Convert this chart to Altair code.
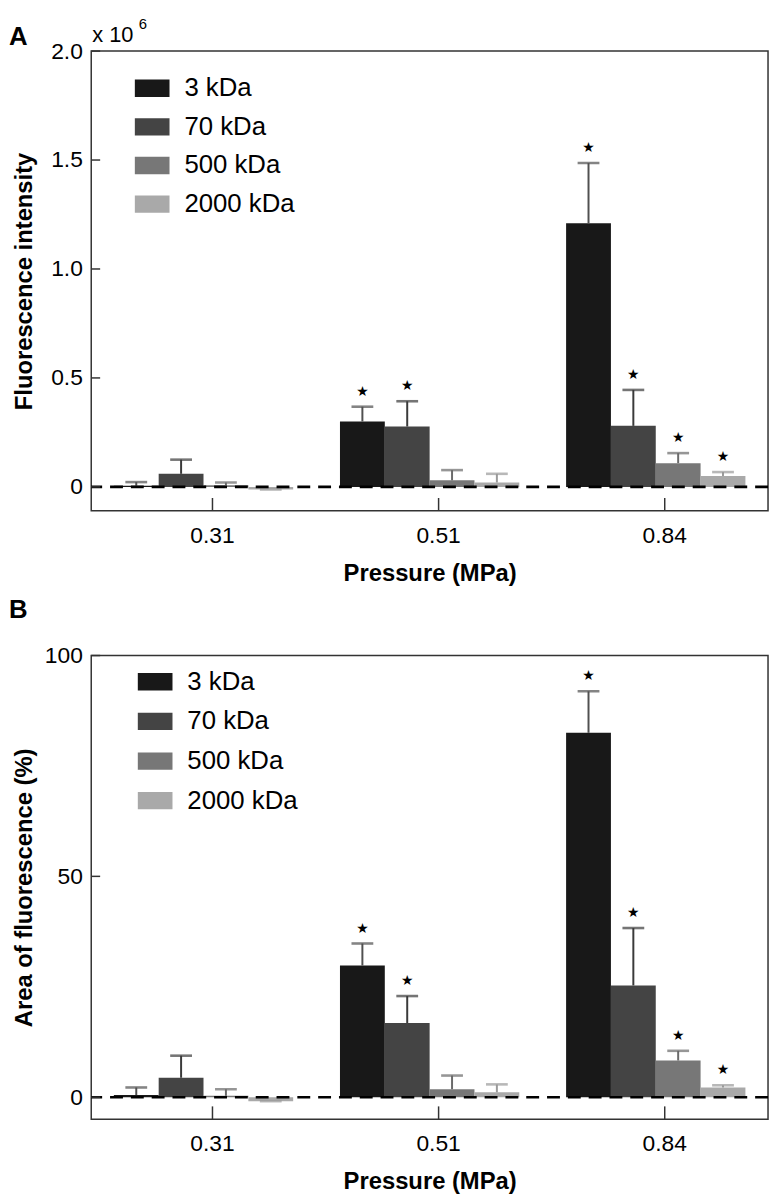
import altair as alt
import pandas as pd

pressures = ["0.31", "0.51", "0.84"]
series = ["3 kDa", "70 kDa", "500 kDa", "2000 kDa"]

# Panel A: fluorescence intensity (x 10^6): mean and top of the error bar
a_mean = {
    "3 kDa":    [0.005, 0.300, 1.210],
    "70 kDa":   [0.060, 0.277, 0.280],
    "500 kDa":  [0.008, 0.030, 0.109],
    "2000 kDa": [-0.012, 0.020, 0.050],
}
a_upper = {
    "3 kDa":    [0.022, 0.368, 1.486],
    "70 kDa":   [0.125, 0.393, 0.445],
    "500 kDa":  [0.020, 0.077, 0.155],
    "2000 kDa": [-0.012, 0.060, 0.068],
}
# Panel B: area of fluorescence (%)
b_mean = {
    "3 kDa":    [0.5, 29.8, 82.5],
    "70 kDa":   [4.4, 16.8, 25.3],
    "500 kDa":  [0.3, 1.8, 8.3],
    "2000 kDa": [-0.9, 1.1, 2.2],
}
b_upper = {
    "3 kDa":    [2.2, 34.8, 91.9],
    "70 kDa":   [9.4, 22.9, 38.3],
    "500 kDa":  [1.8, 4.9, 10.5],
    "2000 kDa": [-0.9, 2.9, 2.7],
}
# significance stars (same in both panels)
stars = {
    "3 kDa":    [False, True, True],
    "70 kDa":   [False, True, True],
    "500 kDa":  [False, False, True],
    "2000 kDa": [False, False, True],
}

a_ticks = [0, 0.5, 1.0, 1.5, 2.0]
b_ticks = [0, 50, 100]

bar_colors = ["#181818", "#444444", "#777777", "#a9a9a9"]
err_colors = ["#505050", "#3a3a3a", "#6a6a6a", "#9a9a9a"]
FONT = "Liberation Sans"
W = 683


def build_df(mean, upper):
    rows = []
    for s in series:
        for i, p in enumerate(pressures):
            rows.append({"pressure": p, "series": s, "mean": mean[s][i],
                         "upper": upper[s][i], "star": stars[s][i]})
    return pd.DataFrame(rows)


def panel(df, ytitle, ydomain, yticks, label_expr, height, letter, letter_y,
          legend_x, legend_y, row_pad, extra=None):
    xenc = alt.X("pressure:N", sort=pressures,
                 scale=alt.Scale(paddingInner=0.207, paddingOuter=0.1),
                 axis=alt.Axis(title="Pressure (MPa)", labelAngle=0, ticks=False,
                               domain=False, labelOffset=9,
                               labelFontSize=23, labelFont=FONT, labelColor="black",
                               labelPadding=14, titleFontSize=24, titleFont=FONT,
                               titleFontWeight="bold", titleColor="black",
                               titlePadding=14))
    xoff = alt.XOffset("series:N", sort=series)
    yscale = alt.Scale(domain=ydomain, nice=False, zero=False)

    base = alt.Chart(df)
    bars = base.mark_bar().encode(
        x=xenc, xOffset=xoff,
        y=alt.Y("mean:Q", scale=yscale,
                axis=alt.Axis(title=ytitle, values=yticks, labelExpr=label_expr,
                              ticks=False, domain=False, grid=False,
                              labelFontSize=23, labelFont=FONT, labelColor="black",
                              labelPadding=9, titleFontSize=24, titleFont=FONT,
                              titleFontWeight="bold", titleColor="black",
                              titleX=-55)),
        fill=alt.Fill("series:N", sort=series,
                      scale=alt.Scale(domain=series, range=bar_colors),
                      legend=alt.Legend(orient="none", legendX=legend_x,
                                        legendY=legend_y, title=None,
                                        symbolType="M-1,-0.5H1V0.5H-1Z",
                                        symbolSize=1225, symbolStrokeWidth=0,
                                        symbolOpacity=1,
                                        labelFontSize=26, labelFont=FONT,
                                        labelColor="black", labelOffset=15,
                                        rowPadding=row_pad)),
    )
    err = base.mark_rule(strokeWidth=2).encode(
        x=alt.X("pressure:N", sort=pressures), xOffset=xoff,
        y=alt.Y("mean:Q", scale=yscale), y2="upper:Q",
        stroke=alt.Stroke("series:N", sort=series,
                          scale=alt.Scale(domain=series, range=err_colors),
                          legend=None),
    )
    caps = base.mark_tick(orient="horizontal", size=22, thickness=2.6).encode(
        x=alt.X("pressure:N", sort=pressures), xOffset=xoff,
        y=alt.Y("upper:Q", scale=yscale),
        fill=alt.Fill("series:N", sort=series,
                      scale=alt.Scale(domain=series, range=err_colors),
                      legend=None),
    )
    star = base.transform_filter("datum.star").mark_text(
        text="★", font="DejaVu Sans", fontSize=14, dy=-15, color="black"
    ).encode(
        x=alt.X("pressure:N", sort=pressures), xOffset=xoff,
        y=alt.Y("upper:Q", scale=yscale),
    )
    zero = alt.Chart(pd.DataFrame({"z": [0]})).mark_rule(
        strokeDash=[13, 8], strokeWidth=2.6, color="black"
    ).encode(y=alt.Y("z:Q", scale=yscale))
    yt = alt.Chart(pd.DataFrame({"t": yticks})).mark_rule(
        color="#333333", strokeWidth=1.5
    ).encode(y=alt.Y("t:Q", scale=yscale), x=alt.value(0), x2=alt.value(9))
    xt = alt.Chart(pd.DataFrame({"pressure": pressures})).mark_rule(
        color="#333333", strokeWidth=1.5
    ).encode(x=alt.X("pressure:N", sort=pressures, bandPosition=0.55),
             y=alt.value(height), y2=alt.value(height - 13))
    lab = alt.Chart(pd.DataFrame({"t": [letter]})).mark_text(
        font=FONT, fontSize=26, fontWeight="bold", align="left",
        baseline="top", color="black"
    ).encode(text="t:N", x=alt.value(-83), y=alt.value(letter_y))
    layers = [bars, err, caps, zero, star, yt, xt, lab]
    if extra is not None:
        layers += extra
    return alt.layer(*layers).resolve_scale(fill="independent").properties(
        width=W, height=height)


dfa = build_df(a_mean, a_upper)
dfb = build_df(b_mean, b_upper)

x10 = alt.Chart(pd.DataFrame({"t": ["x 10"]})).mark_text(
    font=FONT, fontSize=22, align="left", baseline="top", color="black"
).encode(text="t:N", x=alt.value(1), y=alt.value(-26))
exp6 = alt.Chart(pd.DataFrame({"t": ["6"]})).mark_text(
    font=FONT, fontSize=15, align="left", baseline="top", color="black"
).encode(text="t:N", x=alt.value(48), y=alt.value(-34))

pa = panel(dfa, "Fluorescence intensity", [-0.11, 2.0], a_ticks,
           "datum.value == 0 ? '0' : format(datum.value, '.1f')", 464, "A", -27,
           44, 20, 8, extra=[x10, exp6])
pb = panel(dfb, "Area of fluorescence (%)", [-5, 100], b_ticks,
           "format(datum.value, 'd')", 468, "B", -59, 47, 9, 9)

chart = alt.vconcat(pa, pb, spacing=10).properties(
    padding={"left": 0, "top": 3, "right": 0, "bottom": 0}
).configure_view(stroke="#333333", strokeWidth=1.5)

chart.save("out.html", embed_options={"renderer": "svg", "actions": False})
